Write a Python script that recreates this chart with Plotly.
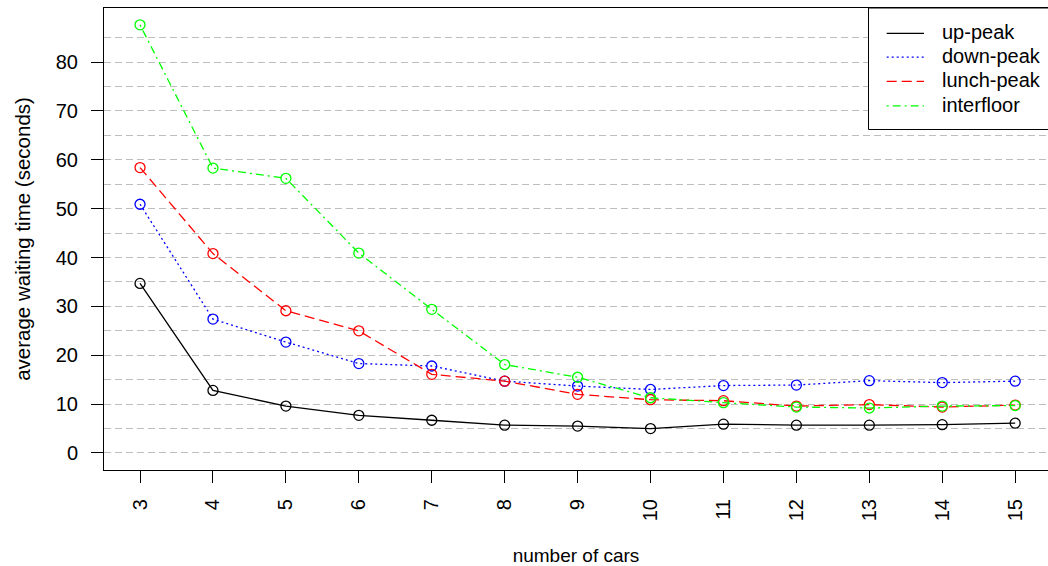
import plotly.graph_objects as go

cars = [3, 4, 5, 6, 7, 8, 9, 10, 11, 12, 13, 14, 15]
up_peak = [34.7, 12.8, 9.6, 7.7, 6.7, 5.7, 5.5, 5.0, 5.9, 5.7, 5.7, 5.8, 6.1]
down_peak = [50.9, 27.4, 22.7, 18.3, 17.8, 14.7, 13.7, 13.0, 13.8, 13.9, 14.8, 14.4, 14.7]
lunch_peak = [58.4, 40.8, 29.1, 25.0, 16.1, 14.7, 12.0, 10.9, 10.7, 9.6, 9.9, 9.4, 9.8]
interfloor = [87.6, 58.3, 56.2, 40.9, 29.4, 18.1, 15.5, 11.3, 10.3, 9.4, 9.2, 9.6, 9.7]

series_names = ["up-peak", "down-peak", "lunch-peak", "interfloor"]
series_values = [up_peak, down_peak, lunch_peak, interfloor]
colors = ["#000000", "#0000FF", "#FF0000", "#00FF00"]
dashes = ["solid", "2px,3px", "10px,5px", "2px,4px,8px,4px"]

major_ticks = [0, 10, 20, 30, 40, 50, 60, 70, 80]
minor_grid = [5, 15, 25, 35, 45, 55, 65, 75, 85]

FONT = "Liberation Sans, Arial, Helvetica, sans-serif"
TICK_FS = 20
XTITLE_FS = 19
YTITLE_FS = 20.5
LEG_FS = 20

W, H = 1048, 566
ML, MT, MR, MB = 104, 8, 0, 96
PW, PH = W - ML - MR, H - MT - MB


def px_x(page_x):
    return (page_x - ML) / PW


def px_y(page_y):
    return (MT + PH - page_y) / PH


fig = go.Figure()
for name, vals, col, dash in zip(series_names, series_values, colors, dashes):
    fig.add_trace(go.Scatter(
        x=cars, y=vals, mode="lines+markers", name=name, showlegend=False,
        line=dict(color=col, width=1.3, dash=dash),
        marker=dict(symbol="circle-open", size=10, color=col, line=dict(width=1.3, color=col)),
    ))

# legend box (drawn manually to match the R-style legend)
shapes = [dict(type="rect", xref="paper", yref="paper",
               x0=px_x(868.5), x1=px_x(1060), y0=px_y(129.5), y1=px_y(8),
               line=dict(color="black", width=1), fillcolor="white", layer="above")]
annotations = []
row_y = [33.3, 57.2, 81.3, 105.8]
for name, col, dash, ry in zip(series_names, colors, dashes, row_y):
    shapes.append(dict(type="line", xref="paper", yref="paper",
                       x0=px_x(886.7), x1=px_x(924), y0=px_y(ry), y1=px_y(ry),
                       line=dict(color=col, width=1.3, dash=dash), layer="above"))
    annotations.append(dict(text=name, xref="paper", yref="paper",
                            x=px_x(940), y=px_y(ry - 1), xanchor="left", yanchor="middle",
                            showarrow=False, font=dict(family=FONT, size=LEG_FS, color="black")))

grid_color = "#BEBEBE"
fig.update_layout(
    width=W, height=H,
    margin=dict(l=ML, r=MR, t=MT, b=MB, pad=0),
    paper_bgcolor="white", plot_bgcolor="white",
    font=dict(family=FONT, size=TICK_FS, color="black"),
    showlegend=False,
    shapes=shapes,
    annotations=annotations,
    xaxis=dict(
        range=[2.506, 15.45], tickvals=cars, ticktext=[str(c) for c in cars],
        tickangle=-90, ticks="outside", ticklen=12, tickcolor="black", tickwidth=1,
        showline=True, linecolor="black", linewidth=1, mirror=True,
        showgrid=False, zeroline=False, automargin=False,
        ticklabelstandoff=8,
        title=dict(text="number of cars", standoff=30, font=dict(size=XTITLE_FS)),
        tickfont=dict(size=TICK_FS, color="black"),
    ),
    yaxis=dict(
        range=[-3.48, 91.05], tickvals=major_ticks,
        ticks="outside", ticklen=12, tickcolor="black", tickwidth=1,
        showline=True, linecolor="black", linewidth=1, mirror=False,
        showgrid=True, gridcolor=grid_color, griddash="7px,4px", gridwidth=1,
        minor=dict(tickvals=minor_grid, showgrid=True, gridcolor=grid_color,
                   griddash="7px,4px", gridwidth=1, ticks=""),
        zeroline=False, automargin=False,
        ticklabelstandoff=9,
        title=dict(text="average waiting time (seconds)", standoff=19, font=dict(size=YTITLE_FS)),
        tickfont=dict(size=TICK_FS, color="black"),
    ),
)

fig.write_html("out.html", config={"displayModeBar": False},
               post_script="document.body.style.margin='0';")
